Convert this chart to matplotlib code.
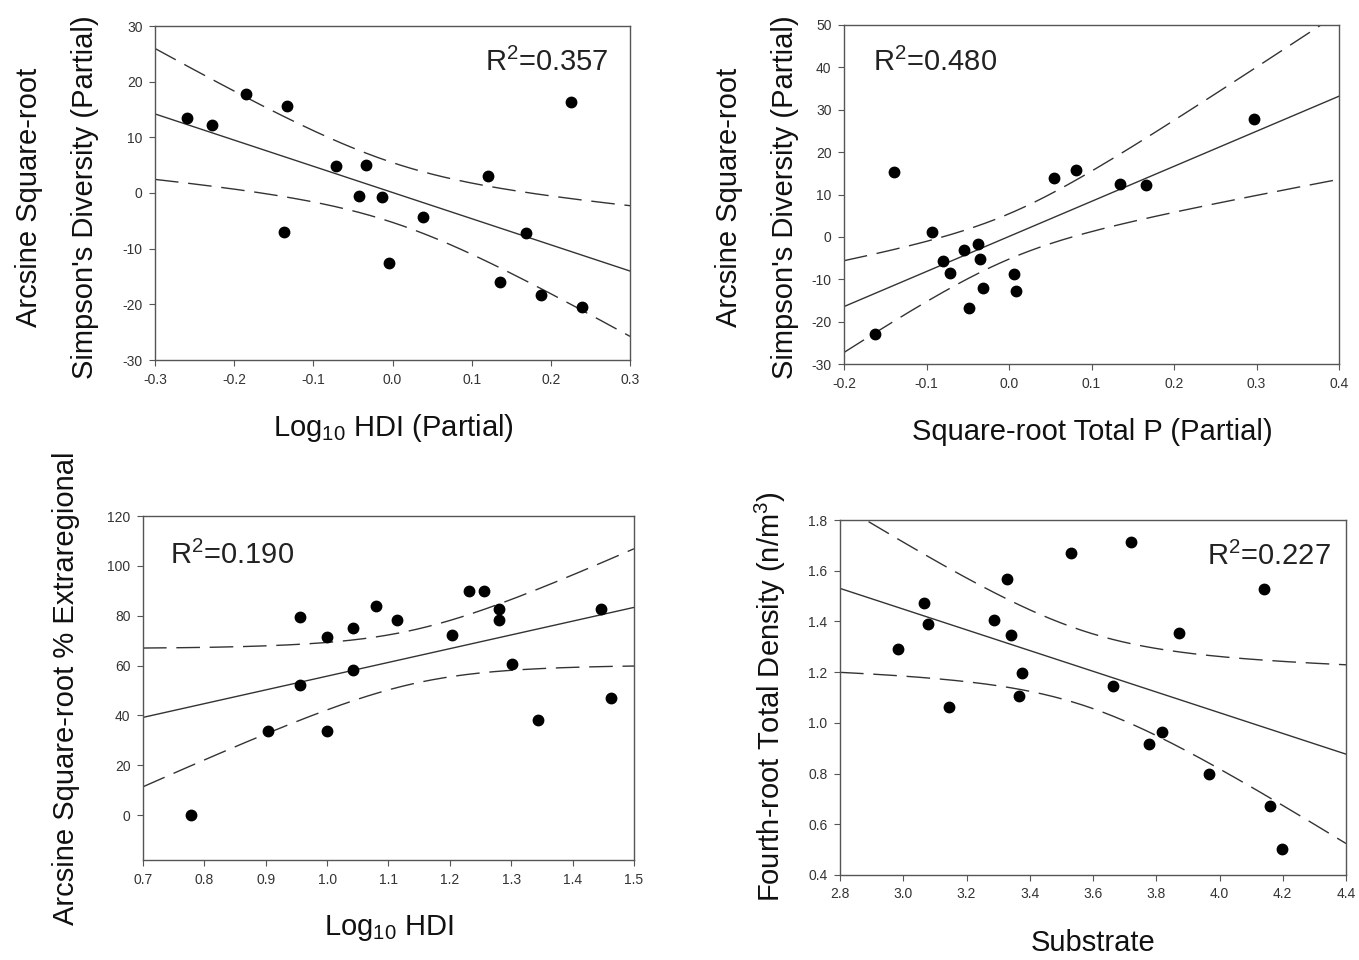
# four regression panels: scatter + fitted line + 95% CI (dashed)
import numpy as np
import matplotlib
matplotlib.use("Agg")
import matplotlib.pyplot as plt
from matplotlib.ticker import FormatStrFormatter

plt.rcParams["font.family"] = ["Liberation Sans", "DejaVu Sans"]
plt.rcParams["mathtext.fontset"] = "custom"
plt.rcParams["mathtext.rm"] = "Liberation Sans"
plt.rcParams["mathtext.it"] = "Liberation Sans:italic"

# ===== data =====
# (a) Log10 HDI (partial) vs Simpson's diversity (partial)
hdi_part = [-0.260, -0.228, -0.185, -0.133, -0.137, -0.072, -0.034, -0.042, -0.013,
            -0.004, 0.038, 0.121, 0.136, 0.168, 0.187, 0.225, 0.239]
div_a = [13.5, 12.3, 17.8, 15.7, -7.0, 4.8, 5.0, -0.5, -0.7,
         -12.6, -4.4, 3.1, -16.0, -7.1, -18.4, 16.3, -20.5]

# (b) Square-root total P (partial) vs Simpson's diversity (partial)
tp_part = [-0.163, -0.139, -0.093, -0.080, -0.072, -0.055, -0.048, -0.037, -0.035,
           -0.031, 0.006, 0.008, 0.055, 0.081, 0.135, 0.166, 0.297]
div_b = [-23.0, 15.3, 1.1, -5.8, -8.6, -3.0, -16.7, -1.6, -5.3,
         -12.1, -8.7, -12.7, 14.0, 15.7, 12.5, 12.3, 27.9]

# (c) Log10 HDI vs arcsine sqrt % extraregional
hdi = [0.778, 0.903, 0.955, 0.955, 1.000, 1.000, 1.042, 1.042, 1.080, 1.114,
       1.204, 1.231, 1.256, 1.280, 1.280, 1.302, 1.343, 1.447, 1.463]
extrareg = [0.0, 33.6, 79.3, 52.3, 71.5, 33.7, 74.9, 58.1, 83.7, 78.1,
            72.1, 90.0, 90.0, 82.8, 78.3, 60.8, 38.3, 82.5, 46.9]

# (d) Substrate vs fourth-root total density
substrate = [2.982, 3.066, 3.079, 3.144, 3.286, 3.329, 3.342, 3.365, 3.374, 3.531,
             3.663, 3.721, 3.778, 3.817, 3.873, 3.967, 4.142, 4.160, 4.199]
density = [1.290, 1.471, 1.390, 1.062, 1.407, 1.569, 1.348, 1.104, 1.197, 1.671,
           1.147, 1.712, 0.917, 0.962, 1.356, 0.798, 1.526, 0.674, 0.502]

r2_labels = ["0.357", "0.480", "0.190", "0.227"]

# t(0.975) for df = n-2
T_CRIT = {15: 2.131, 17: 2.110}

W, H = 1359, 960
fig = plt.figure(figsize=(W / 100, H / 100), dpi=100)


def box(l, t, r, b):
    return [l / W, 1 - b / H, (r - l) / W, (b - t) / H]


def panel(rect, x, y, xlim, ylim, xticks, yticks, xfmt, yfmt):
    ax = fig.add_axes(box(*rect))
    x = np.asarray(x)
    y = np.asarray(y)
    n = len(x)
    b, a = np.polyfit(x, y, 1)
    xs = np.linspace(xlim[0], xlim[1], 300)
    yh = a + b * xs
    s = np.sqrt(np.sum((y - (a + b * x)) ** 2) / (n - 2))
    se = s * np.sqrt(1.0 / n + (xs - x.mean()) ** 2 / np.sum((x - x.mean()) ** 2))
    ci = T_CRIT[n - 2] * se

    ax.plot(xs, yh, color="#333333", lw=1.0)
    ax.plot(xs, yh + ci, color="#333333", lw=1.0, dashes=(17, 7))
    ax.plot(xs, yh - ci, color="#333333", lw=1.0, dashes=(17, 7))
    ax.plot(x, y, "o", color="black", ms=7.5, zorder=3)

    ax.set_xlim(*xlim)
    ax.set_ylim(*ylim)
    ax.set_xticks(xticks)
    ax.set_yticks(yticks)
    ax.xaxis.set_major_formatter(FormatStrFormatter(xfmt))
    ax.yaxis.set_major_formatter(FormatStrFormatter(yfmt))
    ax.tick_params(direction="out", length=4, width=0.8, color="#555555",
                   labelsize=10, labelcolor="#333333", pad=5)
    for sp in ax.spines.values():
        sp.set_color("#555555")
        sp.set_linewidth(1.0)
    return ax


ax1 = panel((155, 26, 630, 360), hdi_part, div_a, (-0.3, 0.3), (-30, 30),
            np.arange(-0.3, 0.31, 0.1), np.arange(-30, 31, 10), "%.1f", "%d")
ax2 = panel((844, 25, 1339, 364), tp_part, div_b, (-0.2, 0.4), (-30, 50),
            np.arange(-0.2, 0.41, 0.1), np.arange(-30, 51, 10), "%.1f", "%d")
ax3 = panel((143, 516, 634, 860), hdi, extrareg, (0.7, 1.5), (-18, 120),
            np.arange(0.7, 1.51, 0.1), np.arange(0, 121, 20), "%.1f", "%d")
ax4 = panel((840, 520, 1346, 875), substrate, density, (2.8, 4.4), (0.4, 1.8),
            np.arange(2.8, 4.41, 0.2), np.arange(0.4, 1.81, 0.2), "%.1f", "%.1f")

# R^2 annotations
rk = dict(fontsize=21, color="#222222", va="center")
fig.text(608 / W, 1 - 62 / H, "R$^2$=" + r2_labels[0], ha="right", **rk)
fig.text(873 / W, 1 - 62 / H, "R$^2$=" + r2_labels[1], ha="left", **rk)
fig.text(170 / W, 1 - 555 / H, "R$^2$=" + r2_labels[2], ha="left", **rk)
fig.text(1331 / W, 1 - 556 / H, "R$^2$=" + r2_labels[3], ha="right", **rk)

# axis labels
lk = dict(fontsize=21, color="#111111", ha="center", va="center")
fig.text(393 / W, 1 - 428 / H, "Log$_{10}$ HDI (Partial)", **lk)
fig.text(1092 / W, 1 - 432 / H, "Square-root Total P (Partial)", **lk)
fig.text(389 / W, 1 - 928 / H, "Log$_{10}$ HDI", **lk)
fig.text(1093 / W, 1 - 943 / H, "Substrate", **lk)

fig.text(57 / W, 1 - 197 / H, "Arcsine Square-root\nSimpson's Diversity (Partial)",
         rotation=90, linespacing=2.3, **lk)
fig.text(757 / W, 1 - 197 / H, "Arcsine Square-root\nSimpson's Diversity (Partial)",
         rotation=90, linespacing=2.3, **lk)
fig.text(66 / W, 1 - 688 / H, "Arcsine Square-root % Extraregional", rotation=90, **lk)
fig.text(770 / W, 1 - 697 / H, "Fourth-root Total Density (n/m$^3$)", rotation=90, **lk)

fig.savefig("out.png", dpi=100)
